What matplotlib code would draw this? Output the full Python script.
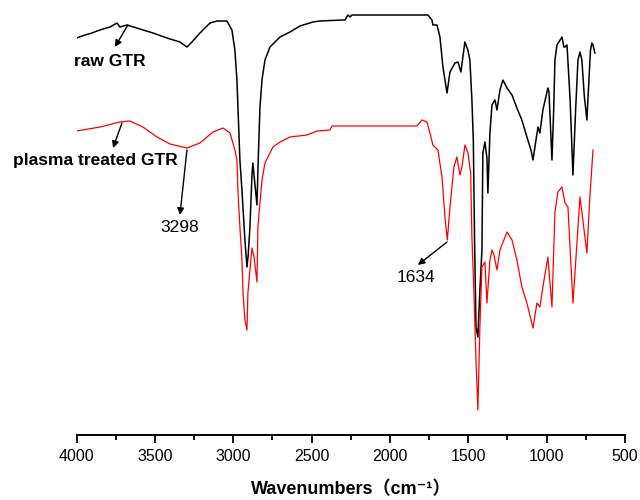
import matplotlib
matplotlib.use('Agg')
import matplotlib.pyplot as plt
from matplotlib.ticker import MultipleLocator

plt.rcParams['font.family'] = ['Liberation Sans', 'DejaVu Sans', 'Noto Sans CJK SC']

# wavenumber (cm-1) and band depth (a.u., larger = deeper)
raw_wn = [4000, 3947, 3902, 3870, 3832, 3787, 3743, 3724, 3679, 3596, 3513, 3424,
          3341, 3296, 3264, 3213, 3149, 3104, 3041, 3009, 2990, 2977, 2958, 2945,
          2926, 2913, 2905, 2894, 2881, 2875, 2868, 2849, 2843, 2830, 2817, 2798,
          2766, 2702, 2638, 2575, 2492, 2447, 2300, 2287, 2268, 2255, 2243, 1758,
          1732, 1726, 1700, 1681, 1662, 1636, 1617, 1585, 1566, 1547, 1522, 1503,
          1490, 1477, 1468, 1460, 1451, 1439, 1426, 1413, 1407, 1394, 1381, 1375,
          1362, 1349, 1330, 1317, 1298, 1279, 1253, 1221, 1190, 1158, 1126, 1100,
          1087, 1068, 1055, 1043, 1024, 992, 985, 966, 955, 947, 934, 914, 902,
          890, 883, 870, 850, 832, 815, 800, 787, 775, 760, 743, 730, 720, 711,
          704, 692]
raw_gtr = [38, 35, 33, 31, 29, 27, 23, 27, 25, 29, 33, 38,
           42, 47, 42, 33, 23, 21, 21, 30, 50, 80, 160, 190,
           240, 267, 255, 227, 175, 163, 175, 205, 170, 107, 80, 60,
           47, 37, 32, 26, 22, 21, 20, 20, 15, 17, 15, 15,
           20, 25, 25, 37, 67, 93, 72, 63, 62, 72, 42, 50,
           60, 100, 140, 240, 327, 337, 290, 250, 153, 142, 158, 193,
           133, 105, 100, 110, 90, 80, 88, 95, 108, 120, 137, 150,
           160, 140, 127, 133, 110, 88, 92, 160, 110, 60, 45, 40, 37,
           47, 47, 45, 100, 175, 110, 60, 52, 60, 95, 120, 80, 50, 43,
           45, 53]

plasma_wn = [4000, 3851, 3724, 3660, 3577, 3487, 3404, 3296, 3213, 3130, 3066, 3021,
             2990, 2977, 2970, 2958, 2945, 2938, 2926, 2913, 2907, 2894, 2881, 2868,
             2849, 2843, 2830, 2817, 2798, 2779, 2747, 2702, 2638, 2530, 2466, 2383,
             2370, 1828, 1796, 1764, 1745, 1726, 1694, 1668, 1649, 1634, 1617, 1592,
             1573, 1553, 1541, 1521, 1502, 1485, 1477, 1464, 1451, 1439, 1426, 1413,
             1394, 1381, 1362, 1349, 1336, 1317, 1298, 1253, 1221, 1190, 1158, 1126,
             1087, 1062, 1043, 1024, 992, 966, 947, 928, 902, 883, 864, 832, 787,
             743, 724, 704]
plasma_gtr = [131, 127, 122, 121, 127, 137, 144, 148, 143, 132, 128, 133,
              150, 160, 193, 227, 260, 293, 320, 330, 293, 270, 248, 257,
              282, 227, 203, 180, 163, 157, 147, 142, 137, 135, 131, 130,
              126, 126, 120, 122, 133, 145, 150, 177, 217, 240, 207, 167,
              157, 175, 167, 145, 153, 173, 237, 293, 360, 410, 327, 267,
              262, 303, 260, 250, 255, 270, 250, 232, 240, 260, 287, 303,
              328, 303, 307, 287, 257, 307, 212, 192, 187, 203, 207, 303, 197,
              253, 197, 150]

fig = plt.figure(figsize=(6.4, 5.0), dpi=100)
ax = fig.add_axes([0.1198, 0.13, 0.8567, 0.87])

ax.plot(raw_wn, raw_gtr, color='black', lw=1.1)
ax.plot(plasma_wn, plasma_gtr, color='red', lw=0.9)

ax.set_xlim(4000, 500)
ax.set_ylim(435, 0)

for s in ['top', 'right', 'left']:
    ax.spines[s].set_visible(False)
ax.spines['bottom'].set_linewidth(1.4)
ax.set_yticks([])
ax.xaxis.set_major_locator(MultipleLocator(500))
ax.xaxis.set_minor_locator(MultipleLocator(250))
ax.tick_params(axis='x', which='major', direction='out', length=6, width=1.3,
               labelsize=11.5, pad=4)
ax.tick_params(axis='x', which='minor', direction='out', length=3.5, width=1.3)
ax.set_xlabel('Wavenumbers（cm⁻¹）', fontsize=13, fontweight='bold', labelpad=12)

arrow = dict(arrowstyle='-|>', color='black', lw=1.0, mutation_scale=10,
             shrinkA=0, shrinkB=0)
ax.annotate('', xy=(3756, 47), xytext=(3673, 25), arrowprops=arrow)
ax.text(3787, 62, 'raw GTR', fontsize=12.5, fontweight='bold',
        ha='center', va='center')
ax.annotate('', xy=(3768, 148), xytext=(3711, 123), arrowprops=arrow)
ax.text(3883, 161, 'plasma treated GTR', fontsize=12.5, fontweight='bold',
        ha='center', va='center', clip_on=False)
ax.annotate('', xy=(3341, 215), xytext=(3296, 150), arrowprops=arrow)
ax.text(3341, 228, '3298', fontsize=12.5, ha='center', va='center')
ax.annotate('', xy=(1822, 265), xytext=(1636, 242), arrowprops=arrow)
ax.text(1834, 277, '1634', fontsize=12.5, ha='center', va='center')

plt.savefig('out.png', dpi=100)
